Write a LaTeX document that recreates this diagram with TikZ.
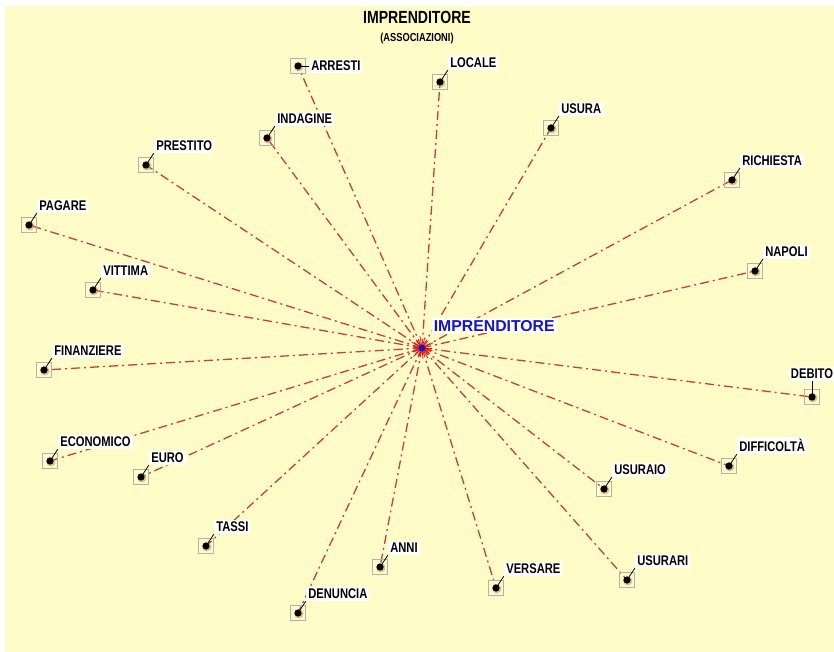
\documentclass[tikz,border=0pt]{standalone}
\usepackage{fontspec}
\setmainfont{Liberation Sans}
\newfontfamily\narrowfont{Liberation Sans}[FakeStretch=0.8]
\usepackage{tikz}
\usetikzlibrary{positioning}
\definecolor{paper}{HTML}{FFFCC8}
\definecolor{linkred}{HTML}{C4423A}
\definecolor{hubblue}{HTML}{1414D0}
\definecolor{halo}{HTML}{C89060}
\pgfdeclarelayer{bg}
\pgfdeclarelayer{paperlayer}
\pgfsetlayers{paperlayer,bg,main}
\tikzstyle{word} = [rectangle, draw=gray!60, minimum size=7.5pt, inner sep=0pt,
  path picture={\fill[halo, opacity=0.6] ([shift={(0.4pt,-0.4pt)}]path picture bounding box.center) circle (2.3pt);
                \fill[black] (path picture bounding box.center) circle (1.8pt);}]
\tikzstyle{tag} = [fill=white, inner sep=1pt, text depth=0pt, font=\narrowfont\bfseries\fontsize{7}{7}\selectfont]
\tikzstyle{line} = [draw, linkred, line width=0.65pt, dash pattern=on 4.5pt off 2pt on 1pt off 2pt]
\tikzstyle{lead} = [draw, black, line width=0.4pt]

\begin{document}
\begin{tikzpicture}[x=0.5pt, y=-0.5pt, node distance=2pt]
  \useasboundingbox (0,0) rectangle (834,652);
  \begin{pgfonlayer}{paperlayer}
    \fill[paper] (5,6) rectangle (834,652);
  \end{pgfonlayer}

  % heading
  \node (title) at (417,17) {\narrowfont\bfseries\fontsize{8.8}{9}\selectfont IMPRENDITORE};
  \node (sub) at (417,39) {\narrowfont\bfseries\fontsize{5.8}{6}\selectfont (ASSOCIAZIONI)};

  % hub
  \node (imp) [inner sep=0pt, minimum size=0pt] at (422,348) {};
  \foreach \a/\r in {0/5,25/6,50/4.5,75/5.5,100/6,125/5,150/6,175/4.5,200/5.5,
                     225/6,250/5,275/5.5,300/6,325/4.5,345/5.5}
    \draw[red, line width=0.35pt] (imp) -- ++(\a:\r pt);
  \fill[hubblue] (imp) circle (1.7pt);
  \node (imp-t) [fill=white, inner sep=1pt, text=hubblue, font=\bfseries\fontsize{7.9}{8}\selectfont,
    above right=7pt and 4.5pt of imp] {IMPRENDITORE};

  % words
  \node (arresti) [word] at (298,66) {};
  \node (locale) [word] at (440,82) {};
  \node (usura) [word] at (551,128) {};
  \node (richiesta) [word] at (732,180) {};
  \node (napoli) [word] at (755,271) {};
  \node (debito) [word] at (812,397) {};
  \node (difficolta) [word] at (729,466) {};
  \node (usuraio) [word] at (604,489) {};
  \node (usurari) [word] at (627,580) {};
  \node (versare) [word] at (496,588) {};
  \node (anni) [word] at (380,567) {};
  \node (denuncia) [word] at (298,613) {};
  \node (tassi) [word] at (206,546) {};
  \node (euro) [word] at (141,477) {};
  \node (economico) [word] at (50,461) {};
  \node (finanziere) [word] at (44,370) {};
  \node (vittima) [word] at (93,290) {};
  \node (pagare) [word] at (29,225) {};
  \node (prestito) [word] at (146,165) {};
  \node (indagine) [word] at (267,138) {};

  % labels
  \node (arresti-t) [tag, right=1.5pt of arresti] {ARRESTI};
  \node (debito-t) [tag, above=4pt of debito] {DEBITO};
  \node (locale-t) [tag, above right=2pt and 0pt of locale.north east, anchor=south west] {LOCALE};
  \node (usura-t) [tag, above right=2pt and 0pt of usura.north east, anchor=south west] {USURA};
  \node (richiesta-t) [tag, above right=2pt and 0pt of richiesta.north east, anchor=south west] {RICHIESTA};
  \node (napoli-t) [tag, above right=2pt and 0pt of napoli.north east, anchor=south west] {NAPOLI};
  \node (difficolta-t) [tag, above right=2pt and 0pt of difficolta.north east, anchor=south west] {DIFFICOLTÀ};
  \node (usuraio-t) [tag, above right=2pt and 0pt of usuraio.north east, anchor=south west] {USURAIO};
  \node (usurari-t) [tag, above right=2pt and 0pt of usurari.north east, anchor=south west] {USURARI};
  \node (versare-t) [tag, above right=2pt and 0pt of versare.north east, anchor=south west] {VERSARE};
  \node (anni-t) [tag, above right=2pt and 0pt of anni.north east, anchor=south west] {ANNI};
  \node (denuncia-t) [tag, above right=2pt and 0pt of denuncia.north east, anchor=south west] {DENUNCIA};
  \node (tassi-t) [tag, above right=2pt and 0pt of tassi.north east, anchor=south west] {TASSI};
  \node (euro-t) [tag, above right=2pt and 0pt of euro.north east, anchor=south west] {EURO};
  \node (economico-t) [tag, above right=2pt and 0pt of economico.north east, anchor=south west] {ECONOMICO};
  \node (finanziere-t) [tag, above right=2pt and 0pt of finanziere.north east, anchor=south west] {FINANZIERE};
  \node (vittima-t) [tag, above right=2pt and 0pt of vittima.north east, anchor=south west] {VITTIMA};
  \node (pagare-t) [tag, above right=2pt and 0pt of pagare.north east, anchor=south west] {PAGARE};
  \node (prestito-t) [tag, above right=2pt and 0pt of prestito.north east, anchor=south west] {PRESTITO};
  \node (indagine-t) [tag, above right=2pt and 0pt of indagine.north east, anchor=south west] {INDAGINE};

  % leaders from dot to label
  \draw [lead] (arresti.center) -- (arresti-t.west);
  \draw [lead] (debito.center) -- (debito-t.south);
  \foreach \w in {locale,usura,richiesta,napoli,difficolta,usuraio,usurari,versare,anni,
                  denuncia,tassi,euro,economico,finanziere,vittima,pagare,prestito,indagine}
    \draw [lead] (\w.center) -- (\w-t.south west);

  % links to the hub
  \begin{pgfonlayer}{bg}
    \foreach \w in {arresti,locale,usura,richiesta,napoli,debito,difficolta,usuraio,usurari,versare,
                    anni,denuncia,tassi,euro,economico,finanziere,vittima,pagare,prestito,indagine}
      \draw [line] (imp) -- (\w.center);
  \end{pgfonlayer}
\end{tikzpicture}
\end{document}
